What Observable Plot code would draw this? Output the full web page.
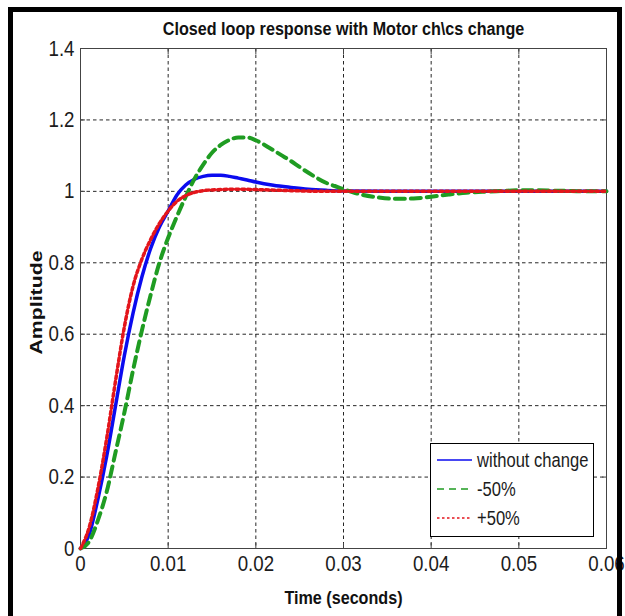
<!DOCTYPE html>
<html><head><meta charset="utf-8">
<script src="https://cdn.jsdelivr.net/npm/d3@7"></script>
<script src="https://cdn.jsdelivr.net/npm/@observablehq/plot@0.6"></script>
<style>
body{margin:0;background:#fff;}
#wrap{position:relative;width:625px;height:616px;overflow:hidden;background:#fff;}
#border{position:absolute;left:8px;top:7px;width:604px;height:640px;border:5px solid #000;}
#legend{position:absolute;left:430px;top:443px;width:164px;height:94px;border:1px solid #000;background:#fff;box-sizing:border-box;}
</style>
</head><body>
<div id="wrap"><div id="border"></div><div id="chart"></div><div id="legend"></div></div>
<script>
const FONT = '"Liberation Sans", Arial, sans-serif';
const NARROW = 0.85;
const titleText = "Closed loop response with Motor ch\\cs change";
const xLabel = "Time (seconds)";
const yLabel = "Amplitude";
const xTicks = [0, 0.01, 0.02, 0.03, 0.04, 0.05, 0.06];
const xTickLabels = ["0", "0.01", "0.02", "0.03", "0.04", "0.05", "0.06"];
const yTicks = [0, 0.2, 0.4, 0.6, 0.8, 1, 1.2, 1.4];
const yTickLabels = ["0", "0.2", "0.4", "0.6", "0.8", "1", "1.2", "1.4"];
const seriesNames = ["without change", "-50%", "+50%"];

// without change (blue)
const tBlue = [0, 0.001, 0.002, 0.003, 0.004, 0.005, 0.006, 0.007, 0.008, 0.009, 0.010, 0.011, 0.012, 0.013, 0.014, 0.015, 0.016, 0.017, 0.018, 0.019, 0.020, 0.022, 0.024, 0.026, 0.028, 0.030, 0.035, 0.040, 0.050, 0.060];
const yBlue = [0, 0.04, 0.14, 0.26, 0.40, 0.54, 0.66, 0.76, 0.84, 0.90, 0.945, 0.99, 1.018, 1.034, 1.042, 1.045, 1.045, 1.042, 1.037, 1.032, 1.026, 1.017, 1.011, 1.006, 1.003, 1.001, 1.0, 1.0, 1.0, 1.0];
// -50% (green)
const tGreen = [0, 0.001, 0.002, 0.003, 0.004, 0.005, 0.006, 0.007, 0.008, 0.009, 0.010, 0.011, 0.012, 0.013, 0.014, 0.015, 0.016, 0.017, 0.018, 0.019, 0.020, 0.021, 0.022, 0.023, 0.024, 0.025, 0.026, 0.027, 0.028, 0.029, 0.030, 0.031, 0.032, 0.034, 0.036, 0.038, 0.040, 0.042, 0.044, 0.046, 0.048, 0.050, 0.052, 0.054, 0.056, 0.058, 0.060];
const yGreen = [0, 0.02, 0.08, 0.16, 0.27, 0.38, 0.50, 0.61, 0.71, 0.80, 0.87, 0.93, 0.985, 1.035, 1.075, 1.108, 1.13, 1.144, 1.151, 1.151, 1.143, 1.13, 1.115, 1.10, 1.085, 1.068, 1.052, 1.037, 1.024, 1.015, 1.006, 0.998, 0.991, 0.983, 0.979, 0.980, 0.985, 0.991, 0.996, 0.999, 1.001, 1.003, 1.003, 1.002, 1.001, 1.0, 1.0];
// +50% (red)
const tRed = [0, 0.001, 0.002, 0.003, 0.004, 0.005, 0.006, 0.007, 0.008, 0.009, 0.010, 0.011, 0.012, 0.013, 0.014, 0.016, 0.018, 0.020, 0.024, 0.028, 0.035, 0.045, 0.060];
const yRed = [0, 0.06, 0.17, 0.31, 0.47, 0.62, 0.735, 0.81, 0.865, 0.91, 0.945, 0.972, 0.988, 0.997, 1.002, 1.005, 1.006, 1.005, 1.002, 1.0, 1.0, 1.0, 1.0];

const blue = tBlue.map((t, i) => ({t, v: yBlue[i]}));
const green = tGreen.map((t, i) => ({t, v: yGreen[i]}));
const red = tRed.map((t, i) => ({t, v: yRed[i]}));

const COL = {blue: "#0b0bef", green: "#1f9c22", red: "#e3151b"};
const fmtX = d => xTickLabels[xTicks.indexOf(d)];
const fmtY = d => yTickLabels[yTicks.indexOf(d)];
const gridStyle = {stroke: "#000", strokeOpacity: 0.85, strokeWidth: 1, strokeDasharray: "3.5,3"};

const plot = Plot.plot({
  width: 625, height: 616,
  marginLeft: 80, marginRight: 19, marginTop: 48, marginBottom: 68,
  style: {fontFamily: FONT, fontSize: "22px", color: "#1c1c1c", background: "transparent", overflow: "visible"},
  x: {domain: [0, 0.06], label: null},
  y: {domain: [0, 1.4], label: null},
  marks: [
    Plot.gridX(xTicks.slice(1, -1), gridStyle),
    Plot.gridY(yTicks.slice(1, -1), gridStyle),
    Plot.axisX(xTicks, {anchor: "bottom", tickSize: -5, tickPadding: 12, tickFormat: fmtX, label: null, fontSize: 22, stroke: "#444"}),
    Plot.axisX(xTicks, {anchor: "top", tickSize: -5, tickFormat: () => "", label: null, stroke: "#444"}),
    Plot.axisY(yTicks, {anchor: "left", tickSize: -5, tickPadding: 11, tickFormat: fmtY, label: null, fontSize: 22, stroke: "#444"}),
    Plot.axisY(yTicks, {anchor: "right", tickSize: -5, tickFormat: () => "", label: null, stroke: "#444"}),
    Plot.frame({stroke: "#444", strokeWidth: 1}),
    Plot.line(blue, {x: "t", y: "v", stroke: COL.blue, strokeWidth: 3.5, curve: "monotone-x"}),
    Plot.line(green, {x: "t", y: "v", stroke: COL.green, strokeWidth: 4, strokeDasharray: "10,6", curve: "monotone-x"}),
    Plot.line(red, {x: "t", y: "v", stroke: COL.red, strokeWidth: 3.5, strokeDasharray: "3,3", curve: "monotone-x"}),
    Plot.text([titleText], {frameAnchor: "top", lineAnchor: "middle", textAnchor: "middle", dy: -20, fontSize: 19, fontWeight: "bold", fill: "#111"}),
    Plot.text([xLabel], {frameAnchor: "bottom", lineAnchor: "middle", textAnchor: "middle", dy: 49, fontSize: 19, fontWeight: "bold", fill: "#111"}),
    Plot.text([yLabel], {frameAnchor: "left", lineAnchor: "middle", textAnchor: "middle", dx: -44, dy: 4, rotate: -90, fontSize: 16.5, fontWeight: "bold", fill: "#111"})
  ]
});
// narrow the glyphs (the reference uses a condensed face); rotated label is stretched along its baseline
plot.querySelectorAll("text").forEach(el => {
  const tr = el.getAttribute("transform");
  if (!tr) return;
  const s = el.textContent === yLabel ? 1.29 : NARROW;
  el.setAttribute("transform", tr + ` scale(${s},1)`);
});
document.getElementById("chart").appendChild(plot);

// legend
const ns = "http://www.w3.org/2000/svg";
const lsvg = document.createElementNS(ns, "svg");
lsvg.setAttribute("width", 162); lsvg.setAttribute("height", 92);
lsvg.style.display = "block";
const legendItems = [
  {name: seriesNames[0], color: COL.blue, dash: null},
  {name: seriesNames[1], color: COL.green, dash: "7,5"},
  {name: seriesNames[2], color: COL.red, dash: "2.5,2.5"}
];
legendItems.forEach((it, i) => {
  const y = 16 + i * 29;
  const ln = document.createElementNS(ns, "line");
  ln.setAttribute("x1", 6); ln.setAttribute("x2", 41);
  ln.setAttribute("y1", y); ln.setAttribute("y2", y);
  ln.setAttribute("stroke", it.color); ln.setAttribute("stroke-width", 1.5);
  if (it.dash) ln.setAttribute("stroke-dasharray", it.dash);
  lsvg.appendChild(ln);
  const tx = document.createElementNS(ns, "text");
  tx.setAttribute("transform", `translate(46,${y}) scale(${NARROW},1)`);
  tx.setAttribute("dy", "0.35em");
  tx.setAttribute("font-family", FONT);
  tx.setAttribute("font-size", 19.5);
  tx.setAttribute("fill", "#1c1c1c");
  tx.textContent = it.name;
  lsvg.appendChild(tx);
});
document.getElementById("legend").appendChild(lsvg);
</script>
</body></html>
